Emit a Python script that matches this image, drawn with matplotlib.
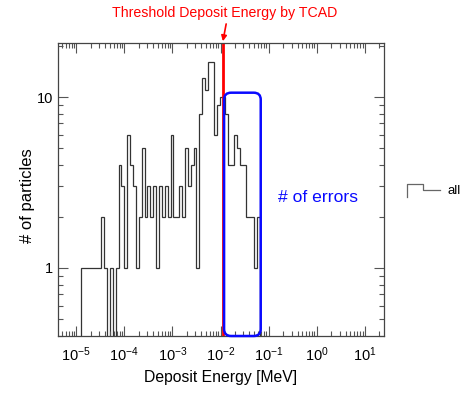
import numpy as np
import matplotlib
matplotlib.use('Agg')
import matplotlib.pyplot as plt
from matplotlib.patches import FancyBboxPatch
from matplotlib.lines import Line2D
from matplotlib.transforms import IdentityTransform
from matplotlib.ticker import (LogLocator, NullFormatter, FixedLocator,
                               FuncFormatter, LogFormatterSciNotation)

plt.rcParams['font.family'] = ['Liberation Sans', 'DejaVu Sans']

# histogram: log bins of 0.06 decade starting at 10^-4.9 MeV
first_edge_log = -4.9
bin_width_log = 0.06
counts = np.array([1, 1, 1, 1, 1, 1, 1, 2, 1, 0, 1, 0, 1, 4, 3, 1, 6, 4, 3, 1,
                   2, 5, 2, 3, 2, 3, 1, 3, 2, 3, 2, 6, 2, 2, 3, 2, 5, 3, 4, 5,
                   1, 8, 13, 11, 16, 16, 6, 9, 10, 10, 8, 4, 4, 6, 5, 4, 4, 2, 2, 2,
                   1, 2])
edges = 10 ** (first_edge_log + bin_width_log * np.arange(len(counts) + 1))

x_decades = [1e-5, 1e-4, 1e-3, 1e-2, 1e-1, 1e0, 1e1]
threshold = 0.0112          # MeV, from TCAD
box_x = (0.01186, 0.0686)   # region marked "# of errors"
box_ytop = 10.6

W, H = 468, 394
fig = plt.figure(figsize=(W / 100, H / 100), dpi=100)
ax = fig.add_axes([58 / W, 1 - 336 / H, (384 - 58) / W, (336 - 43) / H])

floor = 1e-3
ax.stairs(np.where(counts > 0, counts, floor), edges, baseline=floor,
          color='#333333', lw=0.9)

ax.set_xscale('log')
ax.set_yscale('log')
ax.set_xlim(10 ** -5.38, 10 ** 1.4)
ax.set_ylim(0.4, 20.7)

ax.xaxis.set_major_locator(FixedLocator(x_decades))
ax.xaxis.set_major_formatter(LogFormatterSciNotation())
ax.xaxis.set_minor_locator(LogLocator(base=10, subs=np.arange(2, 10), numticks=20))
ax.xaxis.set_minor_formatter(NullFormatter())
ax.yaxis.set_major_locator(FixedLocator([1, 10]))
ax.yaxis.set_major_formatter(FuncFormatter(lambda v, p: f'{v:g}'))
ax.yaxis.set_minor_locator(LogLocator(base=10, subs=np.arange(2, 10), numticks=20))
ax.yaxis.set_minor_formatter(NullFormatter())

ax.tick_params(which='both', direction='in', top=True, right=True,
               colors='#555555', labelcolor='black', labelsize=10.5, width=0.8)
ax.tick_params(which='major', length=7)
ax.tick_params(which='minor', length=3.5)
ax.tick_params(axis='x', pad=7)
for s in ax.spines.values():
    s.set_color('#444444')
    s.set_linewidth(0.9)

ax.set_xlabel('Deposit Energy [MeV]', fontsize=11.3, labelpad=4)
ax.set_ylabel('# of particles', fontsize=12)
ax.yaxis.set_label_coords(-0.072, 0.48)

# threshold line + label
ax.axvline(threshold, color='red', lw=2)
fig.text(225 / W, 1 - 13 / H, 'Threshold Deposit Energy by TCAD',
         color='red', ha='center', va='center', fontsize=10.2)
ax.annotate('', xy=(threshold, 1.006), xycoords=('data', 'axes fraction'),
            xytext=(threshold * 1.17, 1.065), textcoords=('data', 'axes fraction'),
            arrowprops=dict(arrowstyle='-|>', color='red', lw=1.2,
                            mutation_scale=8, shrinkA=0, shrinkB=0),
            annotation_clip=False)

# blue rounded box around error region
(x0, y0) = ax.transData.transform((box_x[0], 0.4))
(x1, y1) = ax.transData.transform((box_x[1], box_ytop))
box = FancyBboxPatch((x0, y0), x1 - x0, y1 - y0,
                     boxstyle='round,pad=0,rounding_size=7',
                     transform=IdentityTransform(), ec='#0a0aff', fc='none',
                     lw=1.8, clip_on=False)
fig.add_artist(box)
ax.text(0.797, 0.474, '# of errors', transform=ax.transAxes, color='#0a0aff',
        ha='center', va='center', fontsize=12.6)

# legend entry
lx = np.array([406.7, 406.7, 423, 423, 440]) / W
ly = 1 - np.array([196.7, 184, 184, 190, 190]) / H
fig.add_artist(Line2D(lx, ly, transform=fig.transFigure, color='#666666', lw=0.9))
fig.text(447 / W, 1 - 191 / H, 'all', ha='left', va='center', fontsize=9.5)

fig.savefig('out.png', dpi=100)
